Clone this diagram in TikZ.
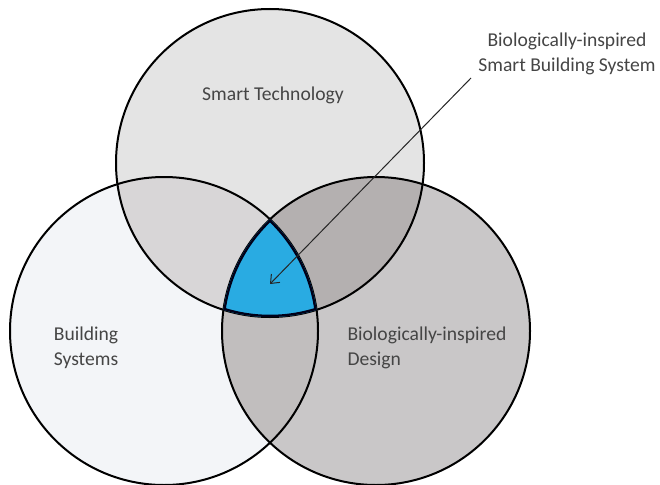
\documentclass[tikz,border=0pt]{standalone}
\usepackage{fontspec}
\setmainfont{Carlito}
\usetikzlibrary{
  positioning,
  arrows.meta
}

\definecolor{techgray}{HTML}{E4E4E4}
\definecolor{buildwhite}{HTML}{F3F5F8}
\definecolor{biogray}{HTML}{C9C7C8}
\definecolor{techbuild}{HTML}{D8D6D7}
\definecolor{techbio}{HTML}{B4B0B0}
\definecolor{buildbio}{HTML}{C1BEBE}
\definecolor{coreblue}{HTML}{29ABE2}
\definecolor{labelgray}{HTML}{454545}

\tikzset{
  venn/.style = {circle, draw=none, minimum size=231pt, inner sep=0},
  vennline/.style = {draw=black, line width=1.5pt},
  vennlabel/.style = {text=labelgray, font=\fontsize{14.7}{19}\selectfont, inner sep=0}
}

\begin{document}
\begin{tikzpicture}[x=0.75pt, y=-0.75pt, line width=0.75pt]
    \useasboundingbox (0,0) rectangle (660,485);

    % the three sets
    \node[venn,fill=techgray] (tech) at (270,163) {};
    \node[venn,fill=buildwhite] (build) at (164,331) {};
    \node[venn,fill=biogray] (bio) at (376,331) {};

    % pairwise overlaps
    \begin{scope}
      \clip (tech.center) circle (154);
      \fill[techbuild] (build.center) circle (154);
    \end{scope}
    \begin{scope}
      \clip (tech.center) circle (154);
      \fill[techbio] (bio.center) circle (154);
    \end{scope}
    \begin{scope}
      \clip (build.center) circle (154);
      \fill[buildbio] (bio.center) circle (154);
    \end{scope}

    % outlines over the fills
    \draw[vennline] (tech.center) circle (154);
    \draw[vennline] (build.center) circle (154);
    \draw[vennline] (bio.center) circle (154);

    % common core
    \begin{scope}
      \clip (tech.center) circle (154);
      \clip (build.center) circle (154);
      \clip (bio.center) circle (154);
      \fill[coreblue] (bio.center) circle (154);
      \draw[line width=3.4pt,black!90!blue] (tech.center) circle (154);
      \draw[line width=3.4pt,black!90!blue] (build.center) circle (154);
      \draw[line width=3.4pt,black!90!blue] (bio.center) circle (154);
    \end{scope}

    % labels
    \node[vennlabel,anchor=base] (techtext) at (273,100) {Smart Technology};
    \node[vennlabel,align=center] (buildtext) at (86,348) {Building\\Systems};
    \node[vennlabel,align=left,anchor=west] (biotext) at (347,348) {Biologically-inspired\\Design};
    \node[vennlabel,align=center] (coretext) at (567,54) {Biologically-inspired\\Smart Building System};

    \coordinate (corestart) at (471,78);
    \coordinate (coretip) at (270,284);
    \draw[-{Straight Barb[length=5.5pt,width=9pt]},black!85] (corestart) -- (coretip);
\end{tikzpicture}
\end{document}
